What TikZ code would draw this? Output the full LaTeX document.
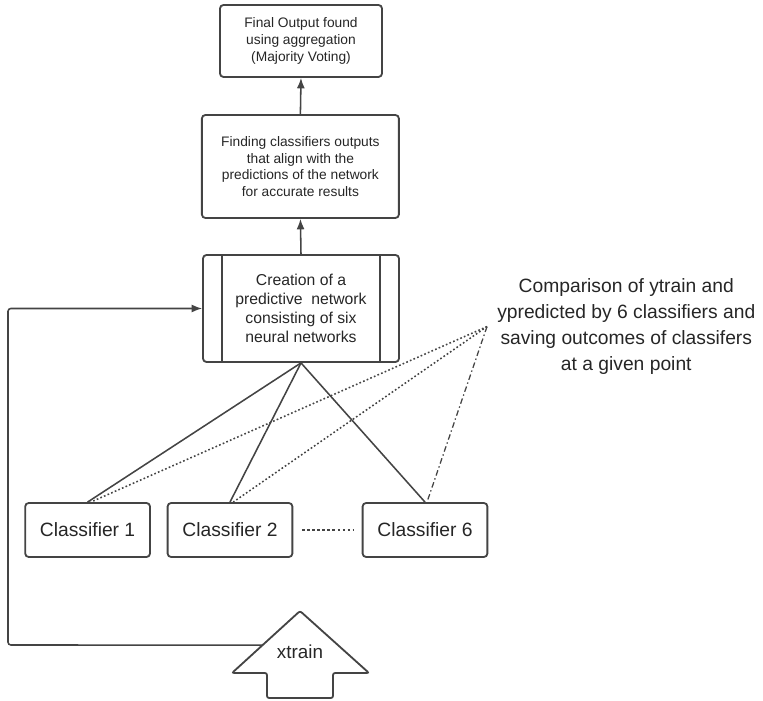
\documentclass[tikz,border=0pt]{standalone}
\usepackage{fontspec}
\setmainfont{Liberation Sans}
\usetikzlibrary{calc,arrows.meta}
\definecolor{ink}{HTML}{444444}
\definecolor{txt}{HTML}{262626}

\begin{document}
\begin{tikzpicture}[
  box/.style={draw=ink,line width=1.3pt,rounded corners=2.5pt,align=center,text=txt,inner sep=2pt},
  lnk/.style={draw=ink,line width=1.1pt},
  arr/.style={lnk,-{Latex[length=2.6mm,width=2mm]}},
  clsbox/.style={box,minimum width=3.12cm,minimum height=1.35cm,font=\fontsize{13.7}{16}\selectfont}]
\useasboundingbox (0,0) rectangle (19.075,17.525);
% main chain
\node[box,minimum width=4.05cm,minimum height=1.8cm,font=\fontsize{9.8}{11.8}\selectfont] (final) at (7.525,16.5){Final Output found\\using aggregation\\(Majority Voting)};
\node[box,minimum width=4.925cm,minimum height=2.575cm,font=\fontsize{9.8}{11.8}\selectfont] (align) at (7.51,13.3625){Finding classifiers outputs\\that align with the\\predictions of the network\\for accurate results};
\node[box,minimum width=4.9cm,minimum height=2.675cm,font=\fontsize{11.2}{13.5}\selectfont] (network) at (7.525,9.8125){Creation of a\\predictive\ \ network\\consisting of six\\neural networks};
\draw[lnk] ([xshift=0.5cm]network.north west)--([xshift=0.5cm]network.south west);
\draw[lnk] ([xshift=-0.5cm]network.north east)--([xshift=-0.5cm]network.south east);
\draw[arr] (network.north)--(align.south);
\draw[arr] (align.north)--(final.south);
% classifiers
\node[clsbox] (cls1) at (2.19,4.275){Classifier 1};
\node[clsbox] (cls2) at (5.75,4.275){Classifier 2};
\node[clsbox] (cls6) at (10.625,4.275){Classifier 6};
\draw[ink,line width=1.8pt,dash pattern=on 1.8pt off 1.8pt,shorten <=0.22cm,shorten >=0.2cm] (cls2.east)--(cls6.west);
\draw[lnk] (network.south)--(cls1.north);
\draw[lnk] (network.south)--(cls2.north);
\draw[lnk] (network.south)--(cls6.north);
% comparison note
\node[anchor=west,inner sep=0.25cm,align=center,text=txt,font=\fontsize{13.7}{18.5}\selectfont] (note) at (12.175,9.36){Comparison of ytrain and\\ypredicted by 6 classifiers and\\saving outcomes of classifers\\at a given point};
\draw[lnk,line width=1.1pt,dash pattern=on 1.2pt off 1.6pt] (note.west)--([xshift=0.08cm]cls1.north);
\draw[lnk,line width=1.1pt,dash pattern=on 1.2pt off 1.6pt] (note.west)--([xshift=0.08cm]cls2.north);
\draw[lnk,line width=0.9pt,dash pattern=on 4pt off 2pt on 1pt off 2pt] (note.west)--([xshift=0.05cm]cls6.north);
% xtrain input
\coordinate (tip) at (7.5,2.25);
\coordinate (wl) at (5.8,0.7);
\draw[lnk,line width=1.3pt,rounded corners=1.5pt] (tip)--(9.225,0.7)--(8.325,0.7)--(8.325,0.075)--(6.675,0.075)--(6.675,0.7)--(wl)--cycle;
\node[text=txt,font=\fontsize{13.4}{16}\selectfont] (xtrain) at (7.5,1.225){xtrain};
\coordinate (xin) at ($(wl)!0.45!(tip)$);
\coordinate (turn) at (0.2,1.4);
\draw[arr,rounded corners=2pt] (xin)--(turn)|-(network.west);
\end{tikzpicture}
\end{document}
